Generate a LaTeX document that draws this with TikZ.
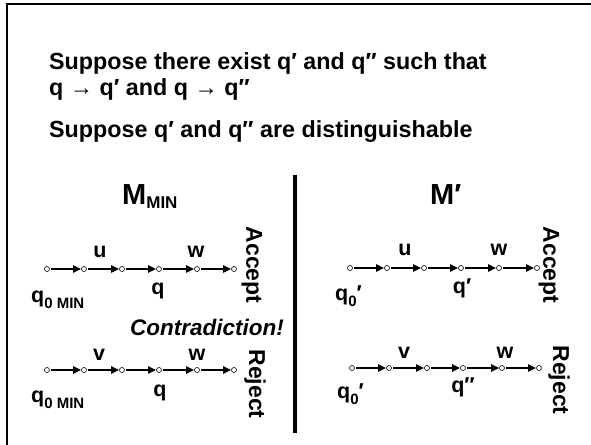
\documentclass[tikz,border=0pt]{standalone}
\usepackage{fontspec}
\setmainfont{Liberation Sans}
\usetikzlibrary{arrows.meta, positioning}

% lowered index as the slide sets it
\newcommand{\lowsub}[1]{\raisebox{-0.3em}{\fontsize{15}{15}\selectfont #1}}

\begin{document}
\begin{tikzpicture}[x=1pt, y=-1pt,
  state/.style={circle, draw, line width=0.6pt, minimum size=5pt, inner sep=0pt},
  trans/.style={-{Triangle[length=8pt,width=7pt]}, line width=2.2pt,
                shorten <=1.5pt},
  stmt/.style={font=\fontsize{23.3}{23.3}\selectfont\bfseries, anchor=base west,
               inner sep=0pt},
  head/.style={font=\fontsize{29}{29}\selectfont\bfseries, anchor=base west,
               inner sep=0pt},
  lbl/.style={font=\fontsize{21.5}{21.5}\selectfont\bfseries, inner sep=0pt},
  verdict/.style={font=\fontsize{23}{23}\selectfont\bfseries, rotate=-90,
                  inner sep=0pt},
]
  \useasboundingbox (0,0) rectangle (591,444);
  \clip (0,0) rectangle (591,444);

  % --- frame and divider ---
  \draw[line width=2.5pt] (7,4) rectangle (640,480);
  \fill (293,175) rectangle (297,433);

  % --- statements ---
  \node[stmt] (s1) at (49,69) {Suppose there exist q′ and q″ such that};
  \node[stmt] (s2) at (49,95) {q → q′ and q → q″};
  \node[stmt] (s3) at (49,137) {Suppose q′ and q″ are distinguishable};

  \node[head] (mmin) at (122,204)
    {M\raisebox{-0.15em}{\fontsize{17}{17}\selectfont MIN}};
  \node[head] (mprime) at (430,204) {M′};

  % --- state rows ---
  \foreach \i/\x in {1/47,2/84,3/122,4/159,5/197,6/234} {
    \node[state] (la\i) at (\x,269) {};
    \node[state] (lb\i) at (\x,370) {};
  }
  \foreach \i/\x in {1/350,2/387,3/424,4/461,5/499,6/537}
    \node[state] (ra\i) at (\x,268) {};
  \foreach \i/\x in {1/352,2/389,3/427,4/463,5/502,6/539}
    \node[state] (rb\i) at (\x,368) {};

  \foreach \r in {la,lb,ra,rb}
    \foreach \i [count=\j from 2] in {1,...,5}
      \draw[trans] (\r\i) -- (\r\j);

  % --- M_MIN ---
  \node[lbl] (ula) at (100,252) {u};
  \node[lbl] (wla) at (196,252) {w};
  \node[lbl, anchor=base west] (q0la) at (31,302) {q\lowsub{0 MIN}};
  \node[lbl, anchor=base] (qla) at (158,294) {q};
  \node[verdict] (acc-l) at (252,265) {Accept};

  \node[font=\fontsize{22.5}{22.5}\selectfont\bfseries\itshape, inner sep=0pt]
    (contra) at (207,327) {Contradiction!};

  \node[lbl] (vlb) at (99,355) {v};
  \node[lbl] (wlb) at (197,355) {w};
  \node[lbl, anchor=base west] (q0lb) at (31,402) {q\lowsub{0 MIN}};
  \node[lbl, anchor=base] (qlb) at (160,396) {q};
  \node[verdict] (rej-l) at (255,384) {Reject};

  % --- M' ---
  \node[lbl] (ura) at (405,250) {u};
  \node[lbl] (wra) at (499,250) {w};
  \node[lbl, anchor=base west] (q0ra) at (335,300) {q\lowsub{0}′};
  \node[lbl, anchor=base] (qra) at (462,293) {q′};
  \node[verdict] (acc-r) at (549,265) {Accept};

  \node[lbl] (vrb) at (404,353) {v};
  \node[lbl] (wrb) at (505,353) {w};
  \node[lbl, anchor=base west] (q0rb) at (337,398) {q\lowsub{0}′};
  \node[lbl, anchor=base] (qrb) at (463,392) {q″};
  \node[verdict] (rej-r) at (559,380) {Reject};

\end{tikzpicture}
\end{document}
